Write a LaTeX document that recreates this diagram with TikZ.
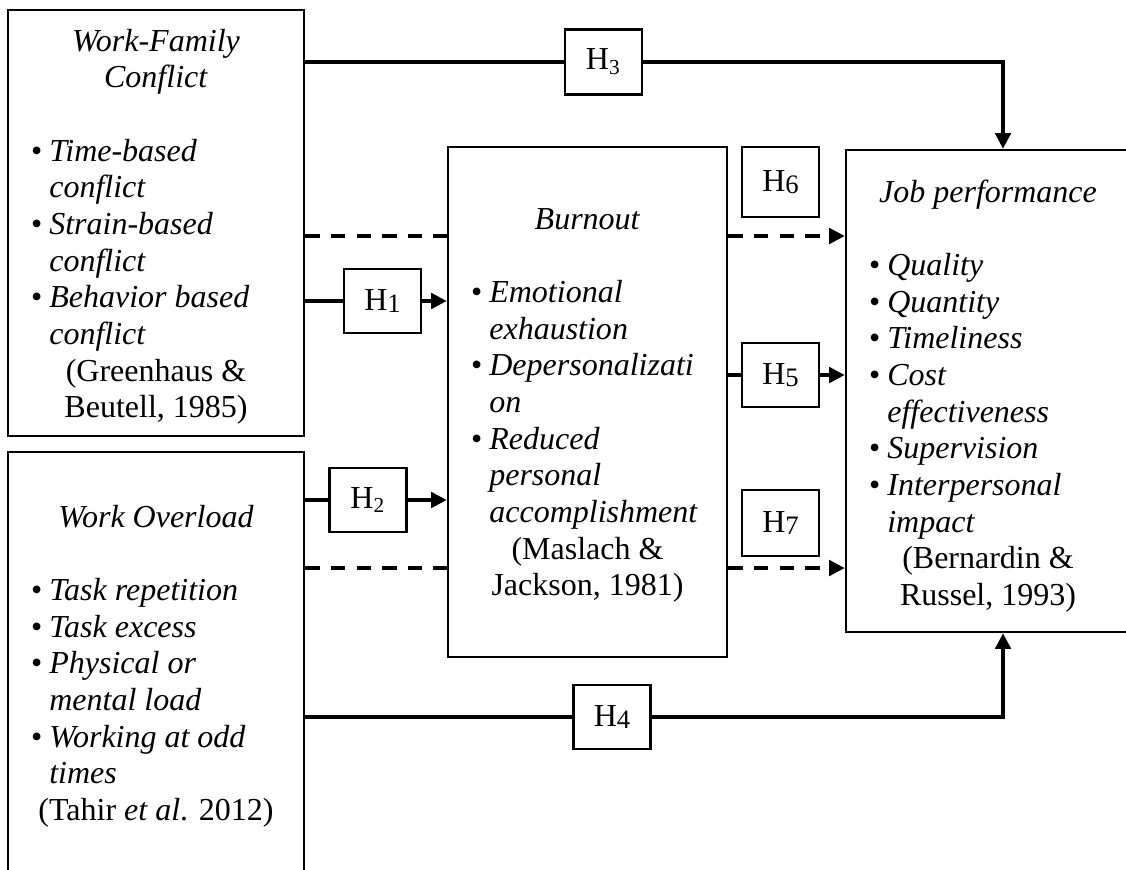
\documentclass[tikz,border=0pt]{standalone}
\usepackage{fontspec}
\setmainfont{Liberation Serif}
\usetikzlibrary{arrows.meta}
\newcommand{\bx}{\leavevmode\llap{\textbullet\hspace{2.6pt}}}
\newcommand{\Hs}[1]{H{\fontsize{10}{10}\selectfont\raisebox{-0.9pt}{#1}}}
\newcommand{\Hsub}[1]{H\textsubscript{#1}}
\newcommand{\ctr}[1]{{\centering #1\par}}
\newcommand{\blist}[1]{{\raggedright\leftskip=15.5pt #1\par}}
\newcommand{\gapline}{\mbox{}\par}
\newcommand{\boxtext}[2]{\parbox[t]{#1}{\fontsize{12pt}{13.76pt}\selectfont #2}}
\tikzset{
  bigbox/.style={draw, line width=1pt, inner sep=0pt, fill=none},
  hbox/.style={draw, line width=1pt, inner sep=0pt, fill=white,
    minimum width=28.875pt, minimum height=24pt, font=\fontsize{12pt}{14pt}\selectfont},
  txt/.style={anchor=base west, inner sep=0pt, outer sep=0pt},
  conn/.style={line width=1.25pt},
  arr/.style={conn, -{Triangle[length=5.8pt,width=5.8pt]}},
  dsh/.style={conn, dash pattern=on 5.4pt off 4.2pt},
  dsharr/.style={dsh, -{Triangle[length=5.8pt,width=5.8pt]}}
}
\begin{document}
\begin{tikzpicture}[x=0.375pt, y=-0.375pt]
\useasboundingbox (0,0) rectangle (1126,869);
\fill[white] (0,0) rectangle (1126,869);
\clip (0,0) rectangle (1126,869);

% main boxes
\node[bigbox, minimum width=111pt, minimum height=159.75pt] (WFC) at (156,223) {};
\node[bigbox, minimum width=111pt, minimum height=175.5pt] (WO) at (156,686) {};
\node[bigbox, minimum width=104.625pt, minimum height=191.25pt] (Burn) at (587.5,402) {};
\node[bigbox, minimum width=106.5pt, minimum height=180.75pt] (JP) at (988,391) {};

% texts
\node[txt] (WFCt) at (8,51) {\boxtext{111pt}{%
  \ctr{\textit{Work-Family}\\\textit{Conflict}}%
  \gapline
  \blist{\bx\textit{Time-based}\\\textit{conflict}\\\bx\textit{Strain-based}\\\textit{conflict}\\\bx\textit{Behavior based}\\\textit{conflict}}%
  \ctr{(Greenhaus \&\\Beutell, 1985)}}};

\node[txt] (WOt) at (8,527) {\boxtext{111pt}{%
  \ctr{\textit{Work Overload}}%
  \gapline
  \blist{\bx\textit{Task repetition}\\\bx\textit{Task excess}\\\bx\textit{Physical or}\\\textit{mental load}\\\bx\textit{Working at odd}\\\textit{times}}%
  \ctr{(Tahir \textit{et al}. 2012)}}};

\node[txt] (Burnt) at (448,229) {\boxtext{104.625pt}{%
  \ctr{\textit{Burnout}}%
  \gapline
  \blist{\bx\textit{Emotional}\\\textit{exhaustion}\\\bx\textit{Depersonalizati}\\\textit{on}\\\bx\textit{Reduced}\\\textit{personal}\\\textit{accomplishment}}%
  \ctr{(Maslach \&\\Jackson, 1981)}}};

\node[txt] (JPt) at (846,202) {\boxtext{106.5pt}{%
  \ctr{\textit{Job performance}}%
  \gapline
  \blist{\bx\textit{Quality}\\\bx\textit{Quantity}\\\bx\textit{Timeliness}\\\bx\textit{Cost}\\\textit{effectiveness}\\\bx\textit{Supervision}\\\bx\textit{Interpersonal}\\\textit{impact}}%
  \ctr{(Bernardin \&\\Russel, 1993)}}};

% hypothesis boxes
\node[hbox] (H1) at (382.5,301) {\Hs{1}};
\node[hbox] (H2) at (368,500) {\Hsub{2}};
\node[hbox, minimum height=24.4pt] (H3) at (603.5,62) {\Hsub{3}};
\node[hbox] (H4) at (612,717) {\Hs{4}};
\node[hbox] (H5) at (780.5,375) {\Hs{5}};
\node[hbox, minimum height=26.25pt] (H6) at (780.5,182) {\Hs{6}};
\node[hbox, minimum height=24.75pt] (H7) at (780.5,523) {\Hs{7}};

% helper coordinates
\coordinate (jx) at (1003,0);
\coordinate (d1) at (0,236);
\coordinate (d2) at (0,568);

% connectors
\draw[conn] (WFC.east |- H3.west) -- (H3.west);
\draw[arr] (H3.east) -| (JP.north -| jx);

\draw[conn] (WFC.east |- H1.west) -- (H1.west);
\draw[arr] (H1.east) -- (Burn.west |- H1.east);

\draw[conn] (WO.east |- H2.west) -- (H2.west);
\draw[arr] (H2.east) -- (Burn.west |- H2.east);

\draw[conn] (WO.east |- H4.west) -- (H4.west);
\draw[arr] (H4.east) -| (JP.south -| jx);

\draw[conn] (Burn.east |- H5.west) -- (H5.west);
\draw[arr] (H5.east) -- (JP.west |- H5.east);

\draw[dsh] (WFC.east |- d1) -- (Burn.west |- d1);
\draw[dsharr] (Burn.east |- d1) -- (JP.west |- d1);

\draw[dsh] (WO.east |- d2) -- (Burn.west |- d2);
\draw[dsharr] (Burn.east |- d2) -- (JP.west |- d2);
\end{tikzpicture}
\end{document}
